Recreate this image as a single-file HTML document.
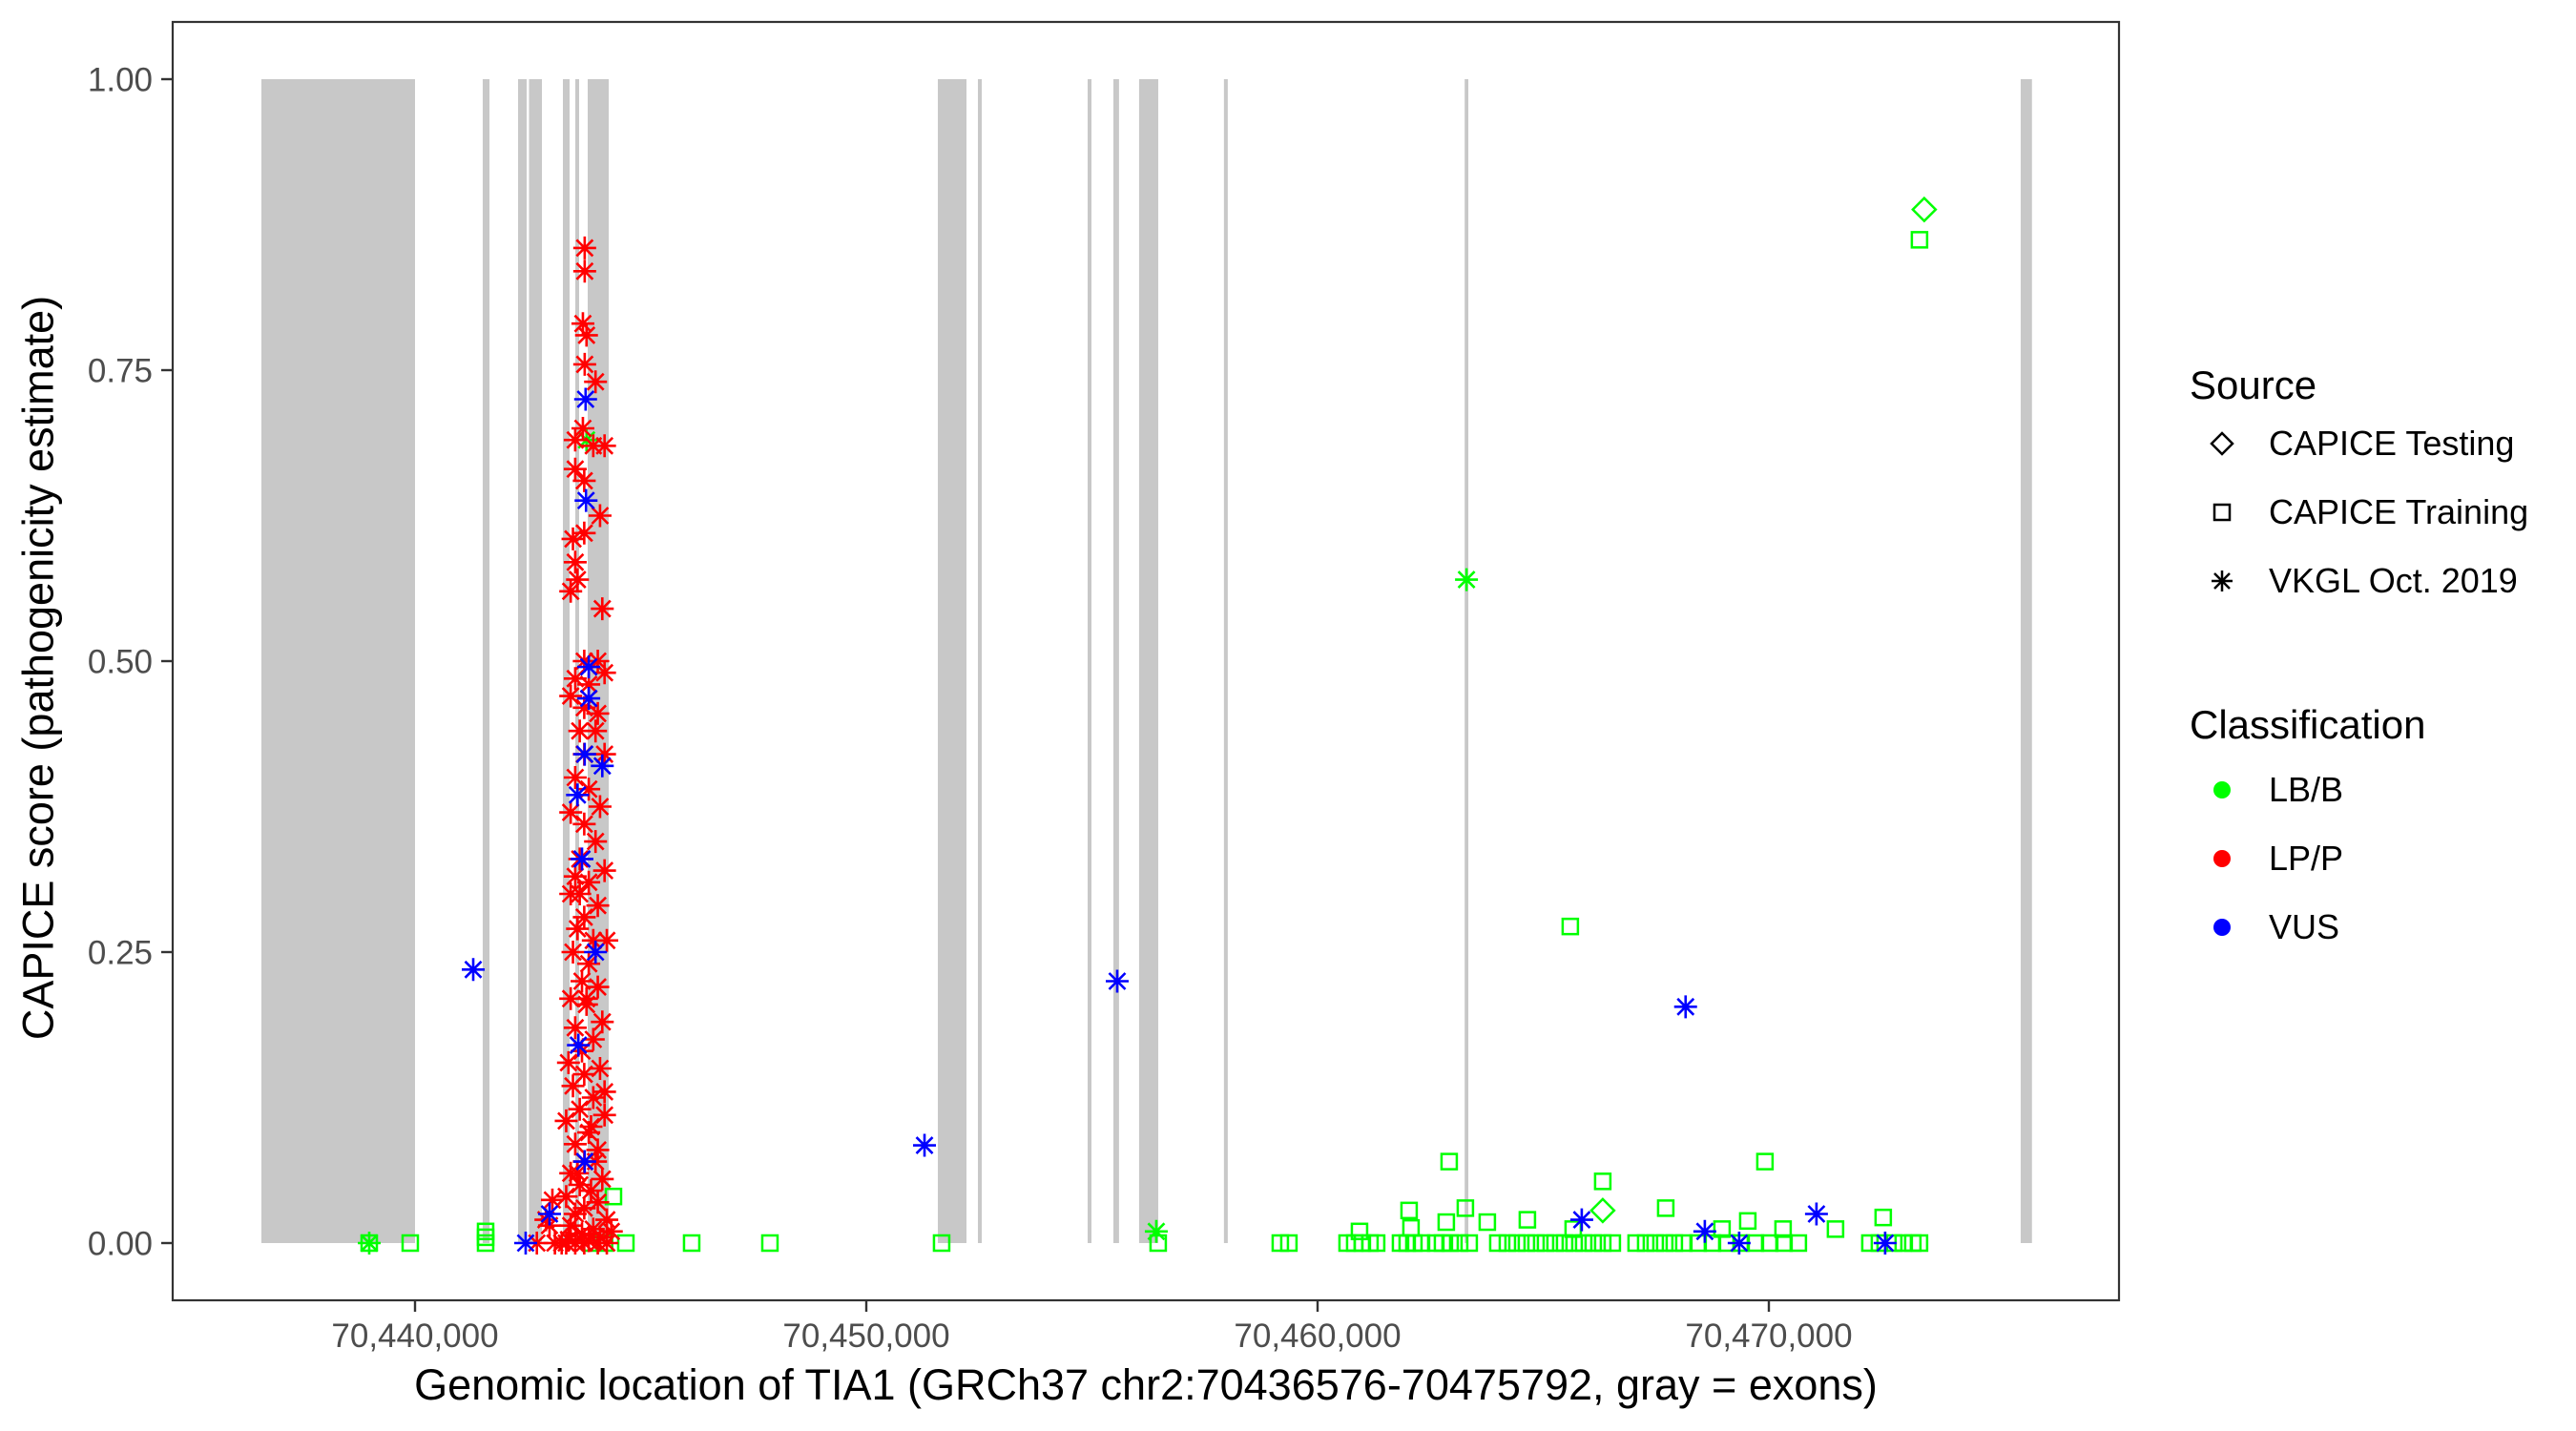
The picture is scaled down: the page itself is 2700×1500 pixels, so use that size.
<!DOCTYPE html>
<html><head><meta charset="utf-8"><style>
html,body{margin:0;padding:0;background:#fff;}
svg{display:block;font-family:"Liberation Sans",Arial,sans-serif;}
</style></head><body>
<svg id="chart" width="2700" height="1500" viewBox="0 0 2700 1500">
<g id="exons"></g>
<g id="points"></g>
<rect x="181" y="23" width="2040" height="1340" fill="none" stroke="#333" stroke-width="2.2"/>
<g id="axes"></g>
<text x="40" y="700" transform="rotate(-90 40 700)" text-anchor="middle" dominant-baseline="central" font-size="45" fill="#000">CAPICE score (pathogenicity estimate)</text>
<text x="1201" y="1467" text-anchor="middle" font-size="45" fill="#000">Genomic location of TIA1 (GRCh37 chr2:70436576-70475792, gray = exons)</text>
<g>
<text x="2295" y="418" font-size="42" fill="#000">Source</text>
<g><path d="M2329 454 L2340 465 L2329 476 L2318 465 Z" fill="none" stroke="#000" stroke-width="2.5"/><text x="2378" y="477" font-size="36">CAPICE Testing</text></g>
<g><rect x="2321" y="529" width="16" height="16" fill="none" stroke="#000" stroke-width="2.5"/><text x="2378" y="549" font-size="36">CAPICE Training</text></g>
<g><path d="M2318 609 H2340 M2329 598 V620 M2321 601 L2337 617 M2321 617 L2337 601" stroke="#000" stroke-width="2.5"/><text x="2378" y="621" font-size="36">VKGL Oct. 2019</text></g>
<text x="2295" y="774" font-size="42" fill="#000">Classification</text>
<g><circle cx="2329" cy="828" r="9" fill="#00ff00"/><text x="2378" y="840" font-size="36">LB/B</text></g>
<g><circle cx="2329" cy="900" r="9" fill="#ff0000"/><text x="2378" y="912" font-size="36">LP/P</text></g>
<g><circle cx="2329" cy="972" r="9" fill="#0000ff"/><text x="2378" y="984" font-size="36">VUS</text></g>
</g>
</svg>
<script>
// ---- data ----
const exonStarts = [70436596,70441500,70442283,70442526,70443277,70443552,70443827,70451585,70452473,70454905,70455475,70456045,70457925,70463260,70475580];
const exonEnds   = [70440000,70441650,70442474,70442812,70443425,70443636,70444292,70452220,70452558,70454990,70455600,70456470,70458010,70463340,70475830];
const xTicks = [70440000,70450000,70460000,70470000];
const xTickLabels = ["70,440,000","70,450,000","70,460,000","70,470,000"];
const yTicks = [0,0.25,0.5,0.75,1.0];
const yTickLabels = ["0.00","0.25","0.50","0.75","1.00"];

const redVkglPos = [70443760,70443760,70443720,70443800,70443760,70444000,70443720,70443550,70444200,70443950,70443550,70443750,70443500,70443750,70444100,70443550,70443600,70443450,70444150,70443750,70444050,70444200,70443550,70443850,70443450,70443750,70444050,70443650,70444000,70443750,70444200,70443550,70443850,70444100,70443450,70443750,70444000,70443650,70444200,70443550,70443850,70443450,70444050,70443750,70443600,70444250,70443950,70443500,70443850,70443700,70444050,70443450,70443800,70444150,70443550,70443950,70443700,70443400,70444100,70443750,70443500,70443950,70443650,70444200,70443350,70443850,70443550,70444050,70443750,70443450,70444150,70443650,70443900,70443350,70444050,70443750,70443550,70444250,70443450,70443950,70443700,70444100,70443400,70443850,70443550,70443750,70444050,70444250,70443350,70443250,70443044,70442980,70442900,70442700,70443100,70443600,70443900,70444200,70444350,70443650,70443800,70444000];
const redVkglScore = [0.855,0.835,0.79,0.78,0.755,0.74,0.70,0.69,0.685,0.685,0.665,0.655,0.605,0.61,0.625,0.585,0.57,0.56,0.545,0.50,0.50,0.49,0.485,0.48,0.47,0.46,0.455,0.44,0.44,0.42,0.42,0.40,0.39,0.375,0.37,0.36,0.345,0.33,0.32,0.315,0.31,0.30,0.29,0.28,0.27,0.26,0.26,0.25,0.24,0.225,0.22,0.21,0.205,0.19,0.185,0.175,0.165,0.155,0.15,0.145,0.135,0.125,0.115,0.11,0.105,0.095,0.085,0.08,0.07,0.06,0.055,0.05,0.045,0.04,0.035,0.03,0.025,0.02,0.015,0.012,0.008,0.005,0.003,0.002,0,0,0,0,0,0,0.037,0.015,0.02,0,0,0.06,0.1,0.13,0.01,0.3,0.21,0.07];

const blueVkglPos = [70443780,70443790,70443600,70443850,70443850,70443760,70444150,70443620,70444000,70443760,70443700,70441290,70442452,70442980,70451290,70455560,70465854,70468155,70468581,70469342,70471055,70472577];
const blueVkglScore = [0.725,0.638,0.385,0.495,0.468,0.42,0.41,0.17,0.25,0.07,0.33,0.235,0,0.025,0.084,0.225,0.02,0.203,0.01,0,0.025,0];

const greenVkglPos = [70463300,70456426,70438985,70443800];
const greenVkglScore = [0.57,0.01,0,0.69];

const greenTestPos = [70473443,70466319];
const greenTestScore = [0.888,0.028];

const greenTrainPos = [70473338,70465600,70462916,70466319,70469913,70462028,70463275,70464649,70467715,70469533,70472534,70463761,70462852,70462070,70470315,70471477,70468962,70460929,70465664,
70460654,70460823,70460992,70461161,70461309,70461838,70461986,70462134,70462303,70462620,70462768,70462937,70463148,70463360,70463994,70464206,70464417,70464628,70464840,70465051,70465262,70465474,70465685,70465897,70466108,70466319,70466531,70467059,70467271,70467482,70467693,70467905,70468116,70468433,70468750,70469068,70469385,70469702,70470019,70470336,70470653,70472239,70472450,70472767,70472978,70473190,70473338,
70438985,70439894,70441564,70441564,70441564,70444397,70444672,70446130,70447864,70451669,70456468,70459174,70459364,70443900,70444200];
const greenTrainScore = [0.862,0.272,0.07,0.053,0.07,0.028,0.03,0.02,0.03,0.019,0.022,0.018,0.018,0.013,0.012,0.012,0.012,0.01,0.012,
0,0,0,0,0,0,0,0,0,0,0,0,0,0,0,0,0,0,0,0,0,0,0,0,0,0,0,0,0,0,0,0,0,0,0,0,0,0,0,0,0,0,0,0,0,0,0,
0,0,0,0.005,0.01,0.04,0,0,0,0,0,0,0,0,0];

// ---- scales ----
const X = bp => 435 + (bp - 70440000) / 10000 * 473;
const Y = s => 1303 - s * 1220;
const NS = "http://www.w3.org/2000/svg";
function mk(tag, parent, attrs) {
  const e = document.createElementNS(NS, tag);
  for (const k in attrs) e.setAttribute(k, attrs[k]);
  parent.appendChild(e);
  return e;
}
const exG = document.getElementById('exons');
for (let i = 0; i < exonStarts.length; i++) {
  const r = mk('rect', exG, {x: X(exonStarts[i]), y: Y(1), width: Math.max(3, X(exonEnds[i]) - X(exonStarts[i])), height: Y(0) - Y(1), fill: '#c8c8c8'});
  
  
}
const ax = document.getElementById('axes');
for (let i = 0; i < xTicks.length; i++) {
  const x = X(xTicks[i]);
  const t = mk('line', ax, {x1: x, x2: x, y1: 1363, y2: 1375, stroke: '#333', 'stroke-width': 2.4});
  
  
  const l = mk('text', ax, {x: x, y: 1412, 'text-anchor': 'middle', 'font-size': 35, fill: '#4d4d4d'});
  l.textContent = xTickLabels[i];
  
  
}
for (let i = 0; i < yTicks.length; i++) {
  const y = Y(yTicks[i]);
  const t = mk('line', ax, {x1: 169, x2: 181, y1: y, y2: y, stroke: '#333', 'stroke-width': 2.4});
  
  
  const l = mk('text', ax, {x: 160, y: y + 12.5, 'text-anchor': 'end', 'font-size': 35, fill: '#4d4d4d'});
  l.textContent = yTickLabels[i];
  
  
}
const pg = document.getElementById('points');
function square(x, y, c) {
  const e = mk('rect', pg, {x: x - 8, y: y - 8, width: 16, height: 16, fill: 'none', stroke: c, 'stroke-width': 2.5});
  
  
}
function diamond(x, y, c) {
  const e = mk('path', pg, {d: `M${x} ${y-12}L${x+12} ${y}L${x} ${y+12}L${x-12} ${y}Z`, fill: 'none', stroke: c, 'stroke-width': 2.5});
  
  
}
function star(x, y, c) {
  const r = 12, d = 8.5;
  const e = mk('path', pg, {d: `M${x-r} ${y}H${x+r}M${x} ${y-r}V${y+r}M${x-d} ${y-d}L${x+d} ${y+d}M${x-d} ${y+d}L${x+d} ${y-d}`, stroke: c, 'stroke-width': 2.6});
  
  
}
for (let i = 0; i < greenTrainPos.length; i++) square(X(greenTrainPos[i]), Y(greenTrainScore[i]), '#00ff00');
for (let i = 0; i < greenTestPos.length; i++) diamond(X(greenTestPos[i]), Y(greenTestScore[i]), '#00ff00');
for (let i = 0; i < greenVkglPos.length; i++) star(X(greenVkglPos[i]), Y(greenVkglScore[i]), '#00ff00');
for (let i = 0; i < redVkglPos.length; i++) star(X(redVkglPos[i]), Y(redVkglScore[i]), '#ff0000');
for (let i = 0; i < blueVkglPos.length; i++) star(X(blueVkglPos[i]), Y(blueVkglScore[i]), '#0000ff');
</script>
</body></html>
